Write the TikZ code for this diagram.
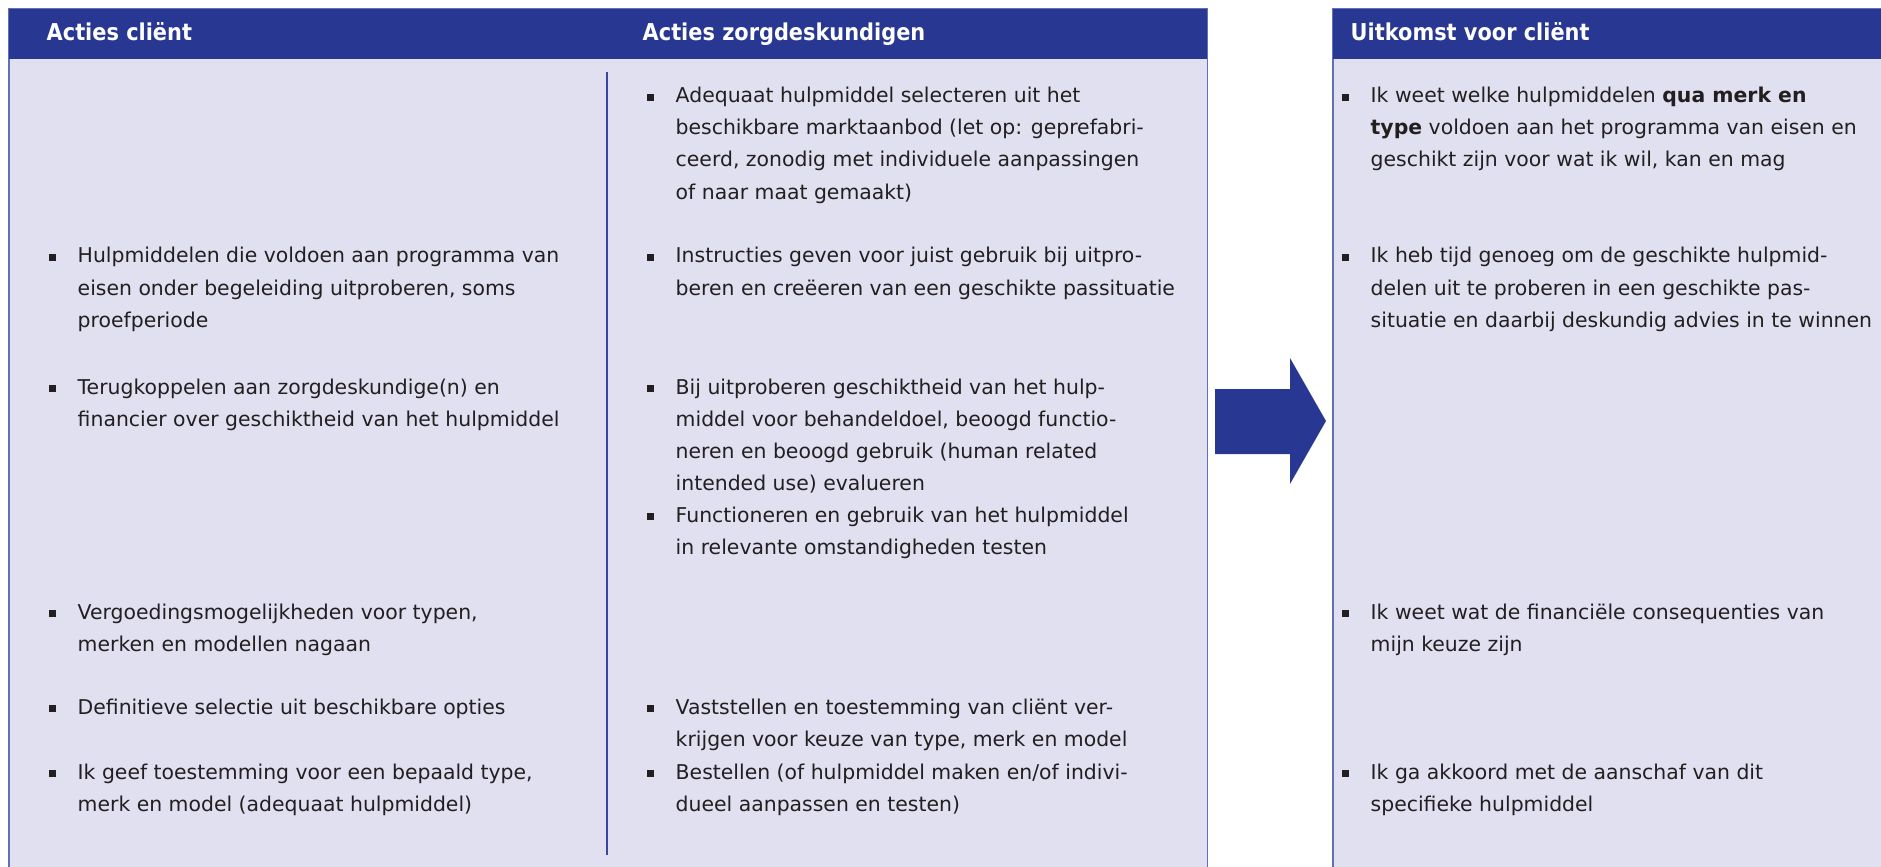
\documentclass[tikz,border=0pt]{standalone}
\usepackage{fontspec}
\setmainfont{DejaVu Sans}
\newfontfamily\headfont[FakeStretch=0.9]{DejaVu Sans}
\usepackage{tikz}
\usetikzlibrary{positioning}

\definecolor{headblue}{RGB}{40,56,146}
\definecolor{panelfill}{RGB}{224,224,240}
\definecolor{panelline}{RGB}{98,112,184}
\definecolor{divline}{RGB}{58,70,160}
\definecolor{bodytext}{RGB}{35,31,32}

\newcommand{\bul}{\makebox[0.29cm][l]{\rule[0.7pt]{2pt}{2pt}}}
\newcommand{\lines}[1]{\begin{tabular}[t]{@{}l@{}}#1\end{tabular}}

\begin{document}
\begin{tikzpicture}[x=0.01cm, y=-0.01cm]
% STYLES
\tikzset{%
    panel/.style={%
draw=panelline,
fill=panelfill,
line width=0.5pt,
anchor=north west,
inner sep=0pt
                 },
    head/.style={%
fill=headblue,
anchor=north west,
inner sep=0pt,
minimum height=0.5cm
                },
    headtext/.style={%
anchor=base west,
inner sep=0pt,
text=white,
font=\headfont\bfseries\fontsize{6.6pt}{8pt}\selectfont
                    },
    item/.style={%
anchor=base west,
inner sep=0pt,
text=bodytext,
font=\fontsize{5.8pt}{9.1pt}\selectfont
                }
             }
\useasboundingbox (0,0) rectangle (1881,867);

% Draw panels
\node [panel, minimum width=11.98cm, minimum height=8.58cm] (client) at (8,8) {};
\node [head, minimum width=11.98cm] (clienthead) at (client.north west) {};
\node [panel, minimum width=5.6cm, minimum height=8.58cm] (outcome) at (1332,8) {};
\node [head, minimum width=5.6cm] (outcomehead) at (outcome.north west) {};
\coordinate (divtop) at (607,72);
\coordinate (divbot) at (607,855);
\draw [divline, line width=0.7pt] (divtop) -- (divbot);

% Headers
\node [headtext] (h1) at (46,41) {Acties cliënt};
\node [headtext] (h2) at (642,41) {Acties zorgdeskundigen};
\node [headtext] (h3) at (1350,41) {Uitkomst voor cliënt};

% Acties client
\node [item] (c1) at (48,263) {\bul\lines{Hulpmiddelen die voldoen aan programma van\\eisen onder begeleiding uitproberen, soms\\proefperiode}};
\node [item] (c2) at (48,394) {\bul\lines{Terugkoppelen aan zorgdeskundige(n) en\\financier over geschiktheid van het hulpmiddel}};
\node [item] (c3) at (48,619) {\bul\lines{Vergoedingsmogelijkheden voor typen,\\merken en modellen nagaan}};
\node [item] (c4) at (48,714) {\bul\lines{Definitieve selectie uit beschikbare opties}};
\node [item] (c5) at (48,779) {\bul\lines{Ik geef toestemming voor een bepaald type,\\merk en model (adequaat hulpmiddel)}};

% Acties zorgdeskundigen
\node [item] (z1) at (646,103) {\bul\lines{Adequaat hulpmiddel selecteren uit het\\beschikbare marktaanbod (let op: geprefabri-\\ceerd, zonodig met individuele aanpassingen\\of naar maat gemaakt)}};
\node [item] (z2) at (646,263) {\bul\lines{Instructies geven voor juist gebruik bij uitpro-\\beren en creëeren van een geschikte passituatie}};
\node [item] (z3) at (646,394) {\bul\lines{Bij uitproberen geschiktheid van het hulp-\\middel voor behandeldoel, beoogd functio-\\neren en beoogd gebruik (human related\\intended use) evalueren}};
\node [item] (z4) at (646,522) {\bul\lines{Functioneren en gebruik van het hulpmiddel\\in relevante omstandigheden testen}};
\node [item] (z5) at (646,714) {\bul\lines{Vaststellen en toestemming van cliënt ver-\\krijgen voor keuze van type, merk en model}};
\node [item] (z6) at (646,779) {\bul\lines{Bestellen (of hulpmiddel maken en/of indivi-\\dueel aanpassen en testen)}};

% Uitkomst voor client
\node [item] (u1) at (1341,103) {\bul\lines{Ik weet welke hulpmiddelen \textbf{qua merk en}\\\textbf{type} voldoen aan het programma van eisen en\\geschikt zijn voor wat ik wil, kan en mag}};
\node [item] (u2) at (1341,263) {\bul\lines{Ik heb tijd genoeg om de geschikte hulpmid-\\delen uit te proberen in een geschikte pas-\\situatie en daarbij deskundig advies in te winnen}};
\node [item] (u3) at (1341,619) {\bul\lines{Ik weet wat de financiële consequenties van\\mijn keuze zijn}};
\node [item] (u4) at (1341,779) {\bul\lines{Ik ga akkoord met de aanschaf van dit\\specifieke hulpmiddel}};

% Draw the arrow between panels
\fill [headblue] (1215,389) -- (1290,389) -- (1290,358) -- (1326,421)
  -- (1290,484) -- (1290,454) -- (1215,454) -- cycle;
\end{tikzpicture}
\end{document}
